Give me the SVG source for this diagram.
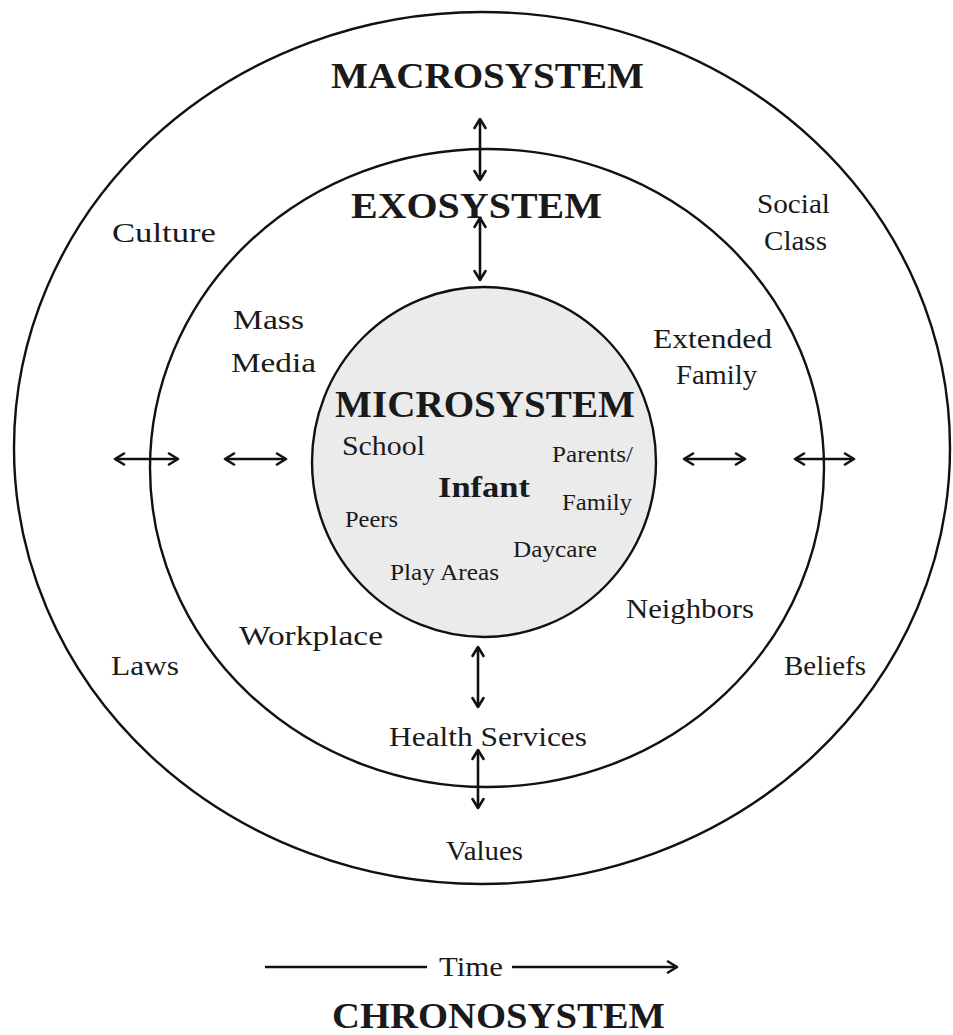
<svg xmlns="http://www.w3.org/2000/svg" width="953" height="1035" viewBox="0 0 953 1035">
<style>
.ring{fill:none;stroke:#111;stroke-width:2.4}
.t{font-family:"Liberation Serif","Times New Roman",serif;fill:#1a1a1a}
.r{font-size:28px}
.s{font-size:23px}
.b{font-weight:bold;font-size:35px}
.c{stroke:#111;stroke-width:2.6;fill:none}
</style>
<defs>
<marker id="h" viewBox="0 0 14 14" refX="12" refY="7" markerWidth="14" markerHeight="14" markerUnits="userSpaceOnUse" orient="auto-start-reverse">
<path d="M3,1.5 L12,7 L3,12.5" fill="none" stroke="#111" stroke-width="2.6" stroke-linecap="round" stroke-linejoin="round"/>
</marker>
</defs>
<rect width="953" height="1035" fill="#fff"/>
<g id="macrosystem">
<ellipse class="ring" cx="482" cy="448" rx="468" ry="436"/>
<text class="t b" x="331" y="88" textLength="313" lengthAdjust="spacingAndGlyphs">MACROSYSTEM</text>
<text class="t r" x="112" y="242" textLength="104" lengthAdjust="spacingAndGlyphs">Culture</text>
<text class="t r" x="757" y="213" textLength="73" lengthAdjust="spacingAndGlyphs">Social</text>
<text class="t r" x="764" y="250" textLength="63" lengthAdjust="spacingAndGlyphs">Class</text>
<text class="t r" x="111" y="675" textLength="68" lengthAdjust="spacingAndGlyphs">Laws</text>
<text class="t r" x="784" y="675" textLength="82" lengthAdjust="spacingAndGlyphs">Beliefs</text>
<text class="t r" x="446" y="860" textLength="77" lengthAdjust="spacingAndGlyphs">Values</text>
</g>
<g id="exosystem">
<ellipse class="ring" cx="487" cy="468" rx="337" ry="319"/>
<text class="t b" x="351" y="218" textLength="251" lengthAdjust="spacingAndGlyphs">EXOSYSTEM</text>
<text class="t r" x="233" y="329" textLength="71" lengthAdjust="spacingAndGlyphs">Mass</text>
<text class="t r" x="231" y="372" textLength="85" lengthAdjust="spacingAndGlyphs">Media</text>
<text class="t r" x="653" y="348" textLength="119" lengthAdjust="spacingAndGlyphs">Extended</text>
<text class="t r" x="676" y="384" textLength="81" lengthAdjust="spacingAndGlyphs">Family</text>
<text class="t r" x="626" y="618" textLength="128" lengthAdjust="spacingAndGlyphs">Neighbors</text>
<text class="t r" x="239" y="645" textLength="144" lengthAdjust="spacingAndGlyphs">Workplace</text>
<text class="t r" x="389" y="746" textLength="198" lengthAdjust="spacingAndGlyphs">Health  Services</text>
</g>
<g id="microsystem">
<ellipse cx="484" cy="462" rx="172" ry="175" fill="#ebebeb" stroke="#111" stroke-width="2.4"/>
<text class="t b" x="335" y="417" style="font-size:37px" textLength="300" lengthAdjust="spacingAndGlyphs">MICROSYSTEM</text>
<text class="t" x="342" y="455" style="font-size:27px" textLength="83" lengthAdjust="spacingAndGlyphs">School</text>
<text class="t s" x="552" y="462" textLength="81" lengthAdjust="spacingAndGlyphs">Parents/</text>
<text class="t" x="438" y="497" style="font-size:30px;font-weight:bold" textLength="92" lengthAdjust="spacingAndGlyphs">Infant</text>
<text class="t s" x="562" y="510" textLength="70" lengthAdjust="spacingAndGlyphs">Family</text>
<text class="t s" x="345" y="527" textLength="53" lengthAdjust="spacingAndGlyphs">Peers</text>
<text class="t s" x="513" y="557" textLength="84" lengthAdjust="spacingAndGlyphs">Daycare</text>
<text class="t s" x="390" y="580" textLength="109" lengthAdjust="spacingAndGlyphs">Play Areas</text>
</g>
<g id="chronosystem">
<text class="t r" x="439" y="976" textLength="64" lengthAdjust="spacingAndGlyphs">Time</text>
<text class="t b" x="332" y="1028" textLength="333" lengthAdjust="spacingAndGlyphs">CHRONOSYSTEM</text>
</g>
<g id="connectors">
<line class="c" x1="480" y1="119" x2="480" y2="180" marker-start="url(#h)" marker-end="url(#h)"/>
<line class="c" x1="480" y1="218" x2="480" y2="280" marker-start="url(#h)" marker-end="url(#h)"/>
<line class="c" x1="478" y1="647" x2="478" y2="707" marker-start="url(#h)" marker-end="url(#h)"/>
<line class="c" x1="478" y1="750" x2="478" y2="808" marker-start="url(#h)" marker-end="url(#h)"/>
<line class="c" x1="115" y1="459" x2="178" y2="459" marker-start="url(#h)" marker-end="url(#h)"/>
<line class="c" x1="225" y1="459" x2="286" y2="459" marker-start="url(#h)" marker-end="url(#h)"/>
<line class="c" x1="684" y1="459" x2="745" y2="459" marker-start="url(#h)" marker-end="url(#h)"/>
<line class="c" x1="795" y1="459" x2="854" y2="459" marker-start="url(#h)" marker-end="url(#h)"/>
<line class="c" x1="265" y1="967" x2="427" y2="967"/>
<line class="c" x1="512" y1="967" x2="677" y2="967" marker-end="url(#h)"/>
</g>
</svg>
